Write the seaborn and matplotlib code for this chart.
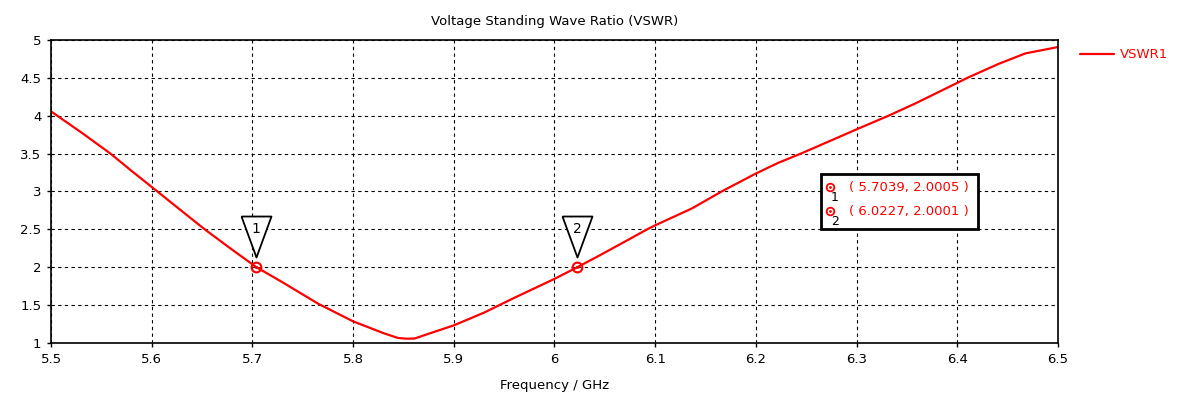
import numpy as np
import pandas as pd
import matplotlib
matplotlib.use("Agg")
import matplotlib.pyplot as plt
import matplotlib.patches as mpatches
import seaborn as sns

# Values.
freq_ghz = [5.5, 5.53, 5.559, 5.582, 5.6056, 5.63, 5.6526, 5.68, 5.7039,
            5.73, 5.765, 5.8, 5.83, 5.8445, 5.853, 5.861, 5.8725, 5.9,
            5.93, 5.96, 6.0, 6.0227, 6.044, 6.0743, 6.092, 6.1, 6.1365,
            6.166, 6.2, 6.222, 6.2447, 6.3, 6.3317, 6.3588, 6.4, 6.41,
            6.4413, 6.4677, 6.5]
vswr = [4.057, 3.78, 3.5, 3.25, 3.0, 2.74, 2.5, 2.23, 2.0005,
        1.80, 1.52, 1.285, 1.13, 1.066, 1.056, 1.058, 1.11, 1.232,
        1.40, 1.595, 1.846, 2.0001, 2.15, 2.37, 2.5, 2.553, 2.776,
        3.0, 3.237, 3.377, 3.5, 3.82, 4.0, 4.165, 4.434, 4.5,
        4.686, 4.823, 4.907]
marker_ids = ["1", "2"]
marker_freq = [5.7039, 6.0227]
marker_vswr = [2.0005, 2.0001]

df = pd.DataFrame({"Frequency / GHz": freq_ghz, "VSWR1": vswr})

sns.set_style("white")
plt.rcParams['font.family'] = ['DejaVu Sans']
plt.rcParams.update({
    "text.color": "black",
    "axes.labelcolor": "black",
    "xtick.color": "black",
    "ytick.color": "black",
    "xtick.bottom": True,
    "ytick.left": True,
})

fig = plt.figure(figsize=(11.98, 3.96), dpi=100)
ax = fig.add_axes([0.0426, 0.134, 0.8405, 0.765])

sns.lineplot(data=df, x="Frequency / GHz", y="VSWR1", color="red",
             linewidth=1.6, ax=ax, label="VSWR1", sort=False)

ax.set(xlim=[5.5, 6.5], ylim=[1, 5])
ax.set_xticks(np.arange(5.5, 6.51, 0.1))
ax.set_xticklabels(["5.5", "5.6", "5.7", "5.8", "5.9", "6", "6.1", "6.2",
                    "6.3", "6.4", "6.5"])
ax.set_yticks(np.arange(1, 5.01, 0.5))
ax.set_yticklabels(["1", "1.5", "2", "2.5", "3", "3.5", "4", "4.5", "5"])
ax.tick_params(axis="both", direction="out", length=3, width=1,
               color="black", labelcolor="black", labelsize=9.5, pad=4)
ax.grid(True, color="black", linestyle=(0, (3, 3)), linewidth=0.8)
for sp in ax.spines.values():
    sp.set_color("black")
    sp.set_linewidth(1.2)

ax.set_xlabel("Frequency / GHz", fontsize=9.5, color="black")
ax.xaxis.set_label_coords(0.5, -0.118)
ax.set_ylabel("")
ax.set_title("Voltage Standing Wave Ratio (VSWR)", fontsize=9.5, pad=11,
             color="black")

# Marker points on the curve.
ax.plot(marker_freq, marker_vswr, "o", mfc="none", mec="red", ms=7,
        mew=1.5, zorder=5)
ax.plot(marker_freq, marker_vswr, ".", color="red", ms=2.5, zorder=6)

# Triangular marker flags (closed outline).
tri = [(-15, 51), (15, 51), (0, 10), (-15, 51)]
for mid, mx, my in zip(marker_ids, marker_freq, marker_vswr):
    ax.plot([mx], [my], marker=tri, ms=73.4, mfc="white", mec="black",
            mew=1.3, linestyle="none", zorder=7)
    ax.annotate(mid, xy=(mx, my), xytext=(0, 27.5), textcoords="offset points",
                ha="center", va="center", fontsize=10, zorder=8)

# Marker readout box.
box = mpatches.Rectangle((821 / 1198, 1 - 229 / 396), 157 / 1198, 55 / 396,
                         transform=fig.transFigure, facecolor="white",
                         edgecolor="black", linewidth=2, zorder=9)
fig.add_artist(box)
row_y = [187, 211]
for i, (mid, mx, my) in enumerate(zip(marker_ids, marker_freq, marker_vswr)):
    yy = 1 - row_y[i] / 396
    xx = 830 / 1198
    fig.add_artist(plt.Line2D([xx], [yy], marker="o", mfc="none", mec="red",
                              ms=5.5, mew=1.3, transform=fig.transFigure,
                              zorder=10))
    fig.add_artist(plt.Line2D([xx], [yy], marker=".", color="red", ms=2,
                              transform=fig.transFigure, zorder=10))
    fig.text(835 / 1198, yy - 10 / 396, mid, color="black", fontsize=9,
             ha="center", va="center", zorder=10)
    fig.text(849 / 1198, yy, "( {:.4f}, {:.4f} )".format(mx, my),
             color="red", fontsize=9.5, ha="left", va="center", zorder=10)

leg = ax.legend(loc="center left", bbox_to_anchor=(1068 / 1198, 1 - 55 / 396),
                bbox_transform=fig.transFigure, frameon=False,
                handlelength=2.6, fontsize=9.5, labelcolor="red",
                handletextpad=0.4)

fig.savefig("out.png", dpi=100)
